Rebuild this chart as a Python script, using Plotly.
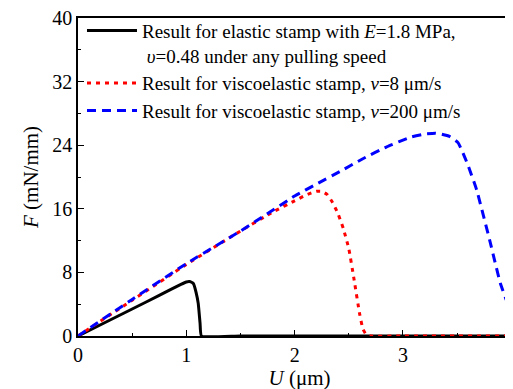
import plotly.graph_objects as go

# Elastic stamp (E=1.8 MPa, v=0.48)
x_elastic = [0, 0.25, 0.5, 0.75, 0.95, 1.0, 1.03, 1.065, 1.09, 1.11, 1.127, 1.14, 1.5, 2.5, 4.1]
y_elastic = [0, 1.7, 3.4, 5.1, 6.5, 6.8, 6.85, 6.6, 5.5, 4.1, 1.6, 0, 0, 0, 0]

# Viscoelastic stamp, v = 8 um/s
x_v8 = [0, 0.5, 1.0, 1.5, 1.8, 2.0, 2.1, 2.2, 2.25, 2.3, 2.35, 2.4, 2.45, 2.5, 2.55, 2.6, 2.63, 2.66, 2.7, 3.0, 4.1]
y_v8 = [0, 4.5, 9.0, 13.2, 15.6, 17.0, 17.7, 18.2, 18.2, 17.8, 16.8, 15.4, 13.5, 11.0, 7.0, 2.8, 0.9, 0.2, 0, 0, 0]

# Viscoelastic stamp, v = 200 um/s
x_v200 = [0, 0.5, 1.0, 1.5, 2.0, 2.2, 2.42, 2.63, 2.85, 3.07, 3.2, 3.3, 3.35, 3.43, 3.51, 3.6, 3.68, 3.8, 3.9, 4.0, 4.1]
y_v200 = [0, 4.6, 9.1, 13.2, 17.6, 19.1, 20.7, 22.3, 23.8, 25.0, 25.4, 25.5, 25.4, 25.1, 24.3, 21.5, 18.4, 12.1, 6.6, 2.9, 0.3]

x_ticks = [0, 1, 2, 3, 4]
y_ticks = [0, 8, 16, 24, 32, 40]

FONT = "Liberation Serif"

fig = go.Figure()
fig.add_trace(go.Scatter(
    x=x_elastic, y=y_elastic, mode="lines",
    line=dict(color="black", width=3, shape="spline", smoothing=0.4),
    name="Result for elastic stamp with <i>E</i>=1.8 MPa,<br>\u00a0<i>υ</i>=0.48 under any pulling speed"))
fig.add_trace(go.Scatter(
    x=x_v8, y=y_v8, mode="lines",
    line=dict(color="#ff0000", width=3, dash="4px,5px", shape="spline", smoothing=0.4),
    name="Result for viscoelastic stamp, <i>v</i>=8 μm/s"))
fig.add_trace(go.Scatter(
    x=x_v200, y=y_v200, mode="lines",
    line=dict(color="#0000ff", width=3, dash="9px,6px", shape="spline", smoothing=0.4),
    name="Result for viscoelastic stamp, <i>v</i>=200 μm/s"))

fig.update_layout(
    width=513, height=389,
    margin=dict(l=70, r=0, t=10, b=61),
    paper_bgcolor="white", plot_bgcolor="white",
    font=dict(family=FONT, size=19, color="black"),
    showlegend=True,
    legend=dict(x=0.009, y=1.02, xanchor="left", yanchor="top",
                bgcolor="rgba(0,0,0,0)", borderwidth=0,
                font=dict(family=FONT, size=19, color="black"),
                valign="top", tracegroupgap=0, itemwidth=50),
    xaxis=dict(range=[0, 4.09], tickvals=x_ticks, ticktext=[str(v) for v in x_ticks],
               automargin=False, ticklabeloverflow="allow",
               showline=True, linecolor="black", linewidth=1.5, mirror=True,
               ticks="inside", ticklen=6, tickwidth=1, tickcolor="black",
               minor=dict(dtick=0.5, ticks="inside", ticklen=3, tickcolor="black"),
               showgrid=False, zeroline=False,
               tickfont=dict(family=FONT, size=20),
               title=dict(text="<i>U</i> (μm)", font=dict(family=FONT, size=21), standoff=2)),
    yaxis=dict(range=[0, 40], tickvals=y_ticks, ticktext=[str(v) for v in y_ticks],
               automargin=False, ticklabeloverflow="allow",
               showline=True, linecolor="black", linewidth=1.5,
               ticks="inside", ticklen=6, tickwidth=1, tickcolor="black",
               minor=dict(dtick=4, ticks="inside", ticklen=3, tickcolor="black"),
               showgrid=False, zeroline=False,
               tickfont=dict(family=FONT, size=20),
               title=dict(text="<i>F</i> (mN/mm)", font=dict(family=FONT, size=21), standoff=8)),
)

fig.write_html("out.html")
